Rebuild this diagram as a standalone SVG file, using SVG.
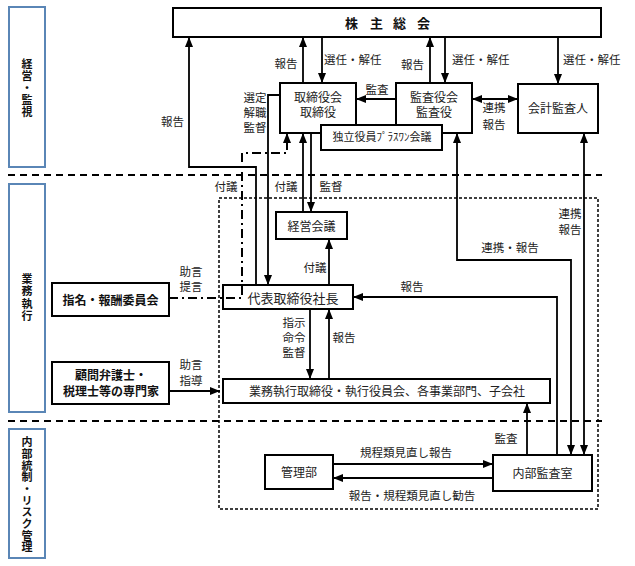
<svg xmlns="http://www.w3.org/2000/svg" width="635" height="566" viewBox="0 0 635 566">
<style>
text{font-family:"Noto Sans CJK JP","Noto Sans CJK SC",sans-serif;fill:#222;}
.lbl{font-size:11.5px;text-anchor:middle;}
.lbs{font-size:11.5px;text-anchor:start;}
.bt{font-size:12px;text-anchor:middle;}
.bb{font-size:12px;text-anchor:middle;font-weight:bold;fill:#111;}
.vt{font-size:11px;text-anchor:middle;font-weight:bold;fill:#111;writing-mode:vertical-rl;}
.box{fill:#fff;stroke:#000;stroke-width:2;}
.side{fill:#fff;stroke:#5a86b6;stroke-width:2;}
.sep{fill:none;stroke:#000;stroke-width:2;stroke-dasharray:7,5;}
.inner{fill:none;stroke:#000;stroke-width:1.5;stroke-dasharray:3,2;}
.ln{fill:none;stroke:#000;stroke-width:1.8;}
.dd{fill:none;stroke:#000;stroke-width:2;stroke-dasharray:9,4,2,4;}
.a{marker-end:url(#ah);}
.aa{marker-end:url(#ah);marker-start:url(#ahs);}
</style>
<defs>
<marker id="ah" markerUnits="userSpaceOnUse" markerWidth="10" markerHeight="8" refX="10" refY="4" orient="auto"><path d="M0,0 L10,4 L0,8 z" fill="#000"/></marker>
<marker id="ahs" markerUnits="userSpaceOnUse" markerWidth="10" markerHeight="8" refX="10" refY="4" orient="auto-start-reverse"><path d="M0,0 L10,4 L0,8 z" fill="#000"/></marker>
</defs>
<rect width="635" height="566" fill="#fff"/>

<g id="sections">
<rect class="side" x="9" y="7" width="36" height="160"/>
<text class="vt" x="27" y="88" style="letter-spacing:1px">経営・監視</text>
<rect class="side" x="9" y="184" width="36" height="228"/>
<text class="vt" x="27" y="298" style="letter-spacing:1.5px">業務執行</text>
<rect class="side" x="9" y="429" width="36" height="129"/>
<text class="vt" x="27" y="495" style="letter-spacing:0.7px">内部統制・リスク管理</text>
<line class="sep" x1="8" y1="175" x2="602" y2="175"/>
<line class="sep" x1="8" y1="421" x2="602" y2="421"/>
<rect class="inner" x="219" y="198" width="379" height="311"/>
</g>

<g id="n-shareholders"><rect class="box" x="173" y="8" width="428" height="29"/><text style="font-size:13px;font-weight:bold;fill:#111" x="345 370 393 417" y="27.5">株主総会</text></g>
<g id="n-board"><rect class="box" x="280" y="83" width="76" height="50"/><text class="bt"><tspan x="318" y="101.5">取締役会</tspan><tspan x="318" y="117">取締役</tspan></text></g>
<g id="n-auditors"><rect class="box" x="396" y="83" width="76" height="50"/><text class="bt"><tspan x="434" y="101.5">監査役会</tspan><tspan x="434" y="117">監査役</tspan></text></g>
<g id="n-independent"><rect class="box" x="321" y="125" width="121" height="25"/><text class="bt" style="font-size:11px" x="382" y="141">独立役員ﾌﾟﾗｽﾜﾝ会議</text></g>
<g id="n-accountant"><rect class="box" x="518" y="84" width="80" height="49"/><text class="bt" x="558" y="112.5">会計監査人</text></g>
<g id="n-mgmtmeeting"><rect class="box" x="276" y="212" width="71" height="27"/><text class="bt" x="311.5" y="230.5">経営会議</text></g>
<g id="n-president"><rect class="box" x="223" y="285" width="130" height="24"/><text class="bt" style="font-size:13px" x="293" y="302.5">代表取締役社長</text></g>
<g id="n-nomination"><rect class="box" x="52" y="283" width="117" height="33"/><text class="bb" x="110.5" y="304.5">指名・報酬委員会</text></g>
<g id="n-advisors"><rect class="box" x="52" y="362" width="117" height="42"/><text class="bb"><tspan x="111" y="379.5">顧問弁護士・</tspan><tspan x="111" y="395.5">税理士等の専門家</tspan></text></g>
<g id="n-execution"><rect class="box" x="223" y="379" width="327" height="24"/><text class="bt" x="387" y="395.5">業務執行取締役・執行役員会、各事業部門、子会社</text></g>
<g id="n-admin"><rect class="box" x="265" y="455" width="68" height="34"/><text class="bt" x="299" y="476.5">管理部</text></g>
<g id="n-internalaudit"><rect class="box" x="493" y="455" width="99" height="36"/><text class="bt" x="542.5" y="477.5">内部監査室</text></g>

<g id="connectors">
<path class="ln a" d="M256,285 V167 H189 V37"/>
<path class="ln a" d="M280,95 H268 V285"/>
<path class="ln a" d="M303,83 V37"/>
<path class="ln a" d="M322,37 V83"/>
<path class="ln a" d="M430,83 V37"/>
<path class="ln a" d="M445,37 V83"/>
<path class="ln a" d="M558,37 V84"/>
<path class="ln a" d="M396,99 H356"/>
<path class="ln aa" d="M472,99 H518"/>
<path class="dd" d="M169,298 H242 V153 H287 V142"/>
<path class="ln a" d="M287,143 V133"/>
<path class="ln a" d="M303,212 V133"/>
<path class="ln a" d="M311,133 V212"/>
<path class="ln a" d="M329,285 V239"/>
<path class="ln a" d="M557,455 V297 H353"/>
<path class="ln a" d="M310,309 V379"/>
<path class="ln a" d="M329,379 V309"/>
<path class="ln a" d="M169,391 H220"/>
<path class="ln a" d="M527,455 V403"/>
<path class="ln aa" d="M457,133 V260 H571 V455"/>
<path class="ln aa" d="M584,133 V455"/>
<path class="ln a" d="M333,464 H493"/>
<path class="ln a" d="M493,478 H333"/>
</g>

<g id="labels">
<text class="lbl" x="172.5" y="126">報告</text>
<text class="lbl" x="255" y="102">選定</text>
<text class="lbl" x="255" y="117">解職</text>
<text class="lbl" x="255" y="132">監督</text>
<text class="lbl" x="286" y="68">報告</text>
<text class="lbs" x="324" y="64">選任・解任</text>
<text class="lbl" x="412.5" y="69">報告</text>
<text class="lbs" x="452" y="64">選任・解任</text>
<text class="lbs" x="563" y="64">選任・解任</text>
<text class="lbl" x="377" y="94">監査</text>
<text class="lbl" x="494" y="112">連携</text>
<text class="lbl" x="494" y="129">報告</text>
<text class="lbl" x="226" y="191">付議</text>
<text class="lbl" x="286" y="191">付議</text>
<text class="lbl" x="331" y="191">監督</text>
<text class="lbl" x="315" y="272">付議</text>
<text class="lbl" x="191" y="276">助言</text>
<text class="lbl" x="191" y="291">提言</text>
<text class="lbl" x="412" y="291">報告</text>
<text class="lbl" x="294" y="327">指示</text>
<text class="lbl" x="294" y="342">命令</text>
<text class="lbl" x="294" y="357">監督</text>
<text class="lbl" x="344" y="342">報告</text>
<text class="lbl" x="191" y="369">助言</text>
<text class="lbl" x="191" y="385">指導</text>
<text class="lbl" x="570" y="218">連携</text>
<text class="lbl" x="570" y="234">報告</text>
<text class="lbl" x="510" y="252">連携・報告</text>
<text class="lbl" x="506" y="443">監査</text>
<text class="lbl" x="406" y="457">規程類見直し報告</text>
<text class="lbl" x="412" y="500">報告・規程類見直し勧告</text>
</g>
</svg>
